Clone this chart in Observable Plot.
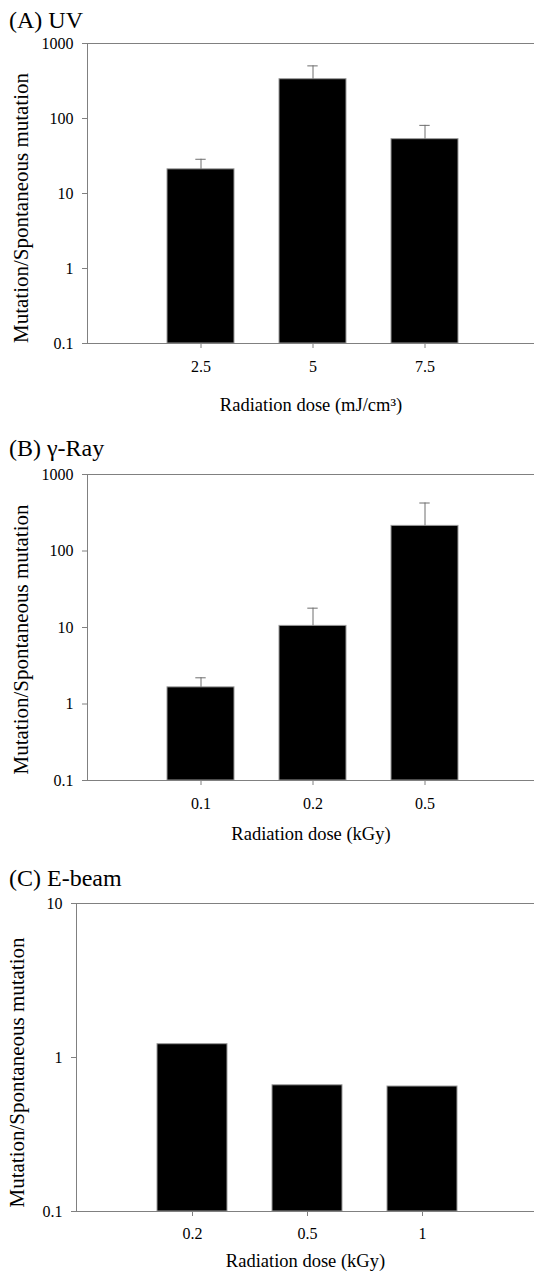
<!DOCTYPE html>
<html><head><meta charset="utf-8">
<script src="https://cdn.jsdelivr.net/npm/d3@7"></script>
<script src="https://cdn.jsdelivr.net/npm/@observablehq/plot@0.6"></script>
<style>
html,body{margin:0;padding:0;background:#fff;width:534px;overflow:hidden;}
svg{display:block;}
</style></head><body><div id="chart"></div>
<script>
// ---- data ----
const yLabel = "Mutation/Spontaneous mutation";

const titleA = "(A) UV";
const xLabelA = "Radiation dose (mJ/cm³)";
const dosesA = ["2.5", "5", "7.5"];
const meanA = [21, 334, 53];
const upperA = [28.6, 503, 81];
const yTicksA = [0.1, 1, 10, 100, 1000];

const titleB = "(B) γ-Ray";
const xLabelB = "Radiation dose (kGy)";
const dosesB = ["0.1", "0.2", "0.5"];
const meanB = [1.65, 10.5, 213];
const upperB = [2.2, 17.9, 424];
const yTicksB = [0.1, 1, 10, 100, 1000];

const titleC = "(C) E-beam";
const xLabelC = "Radiation dose (kGy)";
const dosesC = ["0.2", "0.5", "1"];
const meanC = [1.22, 0.66, 0.648];
const yTicksC = [0.1, 1, 10];

const GRAY = "#808080";
const FONT = "Liberation Serif";

function panel(o) {
  const rows = o.doses.map((d, i) => ({dose: d, mean: o.means[i], upper: o.uppers ? o.uppers[i] : null}));
  const errs = rows.filter(d => d.upper != null);
  const yMin = o.yTicks[0], yMax = o.yTicks[o.yTicks.length - 1];
  const marks = [
    Plot.barY(rows, {x: "dose", y1: yMin, y2: "mean", fill: "black", stroke: "#9a9a9a", strokeWidth: 1}),
    Plot.ruleX(errs, {x: "dose", y1: "mean", y2: "upper", stroke: "#6e6e6e", strokeWidth: 1}),
    Plot.tickY(errs, {x: "dose", y: "upper", stroke: "#6e6e6e", strokeWidth: 1, insetLeft: o.capInset, insetRight: o.capInset}),
    Plot.frame({anchor: "left", stroke: GRAY}),
    Plot.ruleY([yMin, yMax], {stroke: GRAY}),
    Plot.axisY({ticks: o.yTicks, tickFormat: d => String(d), tickSize: 5, tickPadding: 9, fontSize: 16, fontFamily: FONT, stroke: GRAY, fill: "black", label: null}),
    Plot.axisX({tickSize: 5, tickPadding: o.xPad, fontSize: 16, fontFamily: FONT, stroke: GRAY, fill: "black", label: null}),
    Plot.text([o.title], {text: d => d, frameAnchor: "top-left", dx: o.titleDx, dy: o.titleDy, textAnchor: "start", lineAnchor: "bottom", fontSize: 24, fontFamily: FONT, fill: "black"}),
    Plot.text([yLabel], {text: d => d, frameAnchor: "left", dx: o.ylDx, dy: o.ylDy, rotate: -90, textAnchor: "middle", lineAnchor: "middle", fontSize: 21, fontFamily: FONT, fill: "black"}),
    Plot.text([o.xLabel], {text: d => d, frameAnchor: "bottom", dy: o.xlDy, textAnchor: "middle", lineAnchor: "bottom", fontSize: 18.5, fontFamily: FONT, fill: "black"})
  ];
  return Plot.plot({
    width: 534,
    height: o.height,
    marginTop: o.mt,
    marginBottom: o.mb,
    marginLeft: o.ml,
    marginRight: 0,
    x: {type: "band", domain: o.doses, paddingInner: o.pi, paddingOuter: o.po, align: o.align},
    y: {type: "log", domain: [yMin, yMax]},
    marks
  });
}

const root = document.getElementById("chart");
root.appendChild(panel({
  height: 420, mt: 43, mb: 77, ml: 87,
  doses: dosesA, means: meanA, uppers: upperA, yTicks: yTicksA,
  title: titleA, xLabel: xLabelA,
  pi: 0.4, po: 0.685, align: 0.515, capInset: 28.3, xPad: 12,
  titleDx: -78.5, titleDy: -16, ylDx: -66, ylDy: 14.5, xlDy: 67.7
}));
root.appendChild(panel({
  height: 430, mt: 54, mb: 70, ml: 87,
  doses: dosesB, means: meanB, uppers: upperB, yTicks: yTicksB,
  title: titleB, xLabel: xLabelB,
  pi: 0.4, po: 0.685, align: 0.515, capInset: 28.3, xPad: 12,
  titleDx: -78.5, titleDy: -18.6, ylDx: -66, ylDy: 12, xlDy: 59.5
}));
root.appendChild(panel({
  height: 422, mt: 53, mb: 61, ml: 76,
  doses: dosesC, means: meanC, uppers: null, yTicks: yTicksC,
  title: titleC, xLabel: xLabelC,
  pi: 0.392, po: 0.685, align: 0.512, capInset: 29, xPad: 11,
  titleDx: -67.5, titleDy: -17.3, ylDx: -59, ylDy: 15, xlDy: 55
}));
</script>
</body></html>
